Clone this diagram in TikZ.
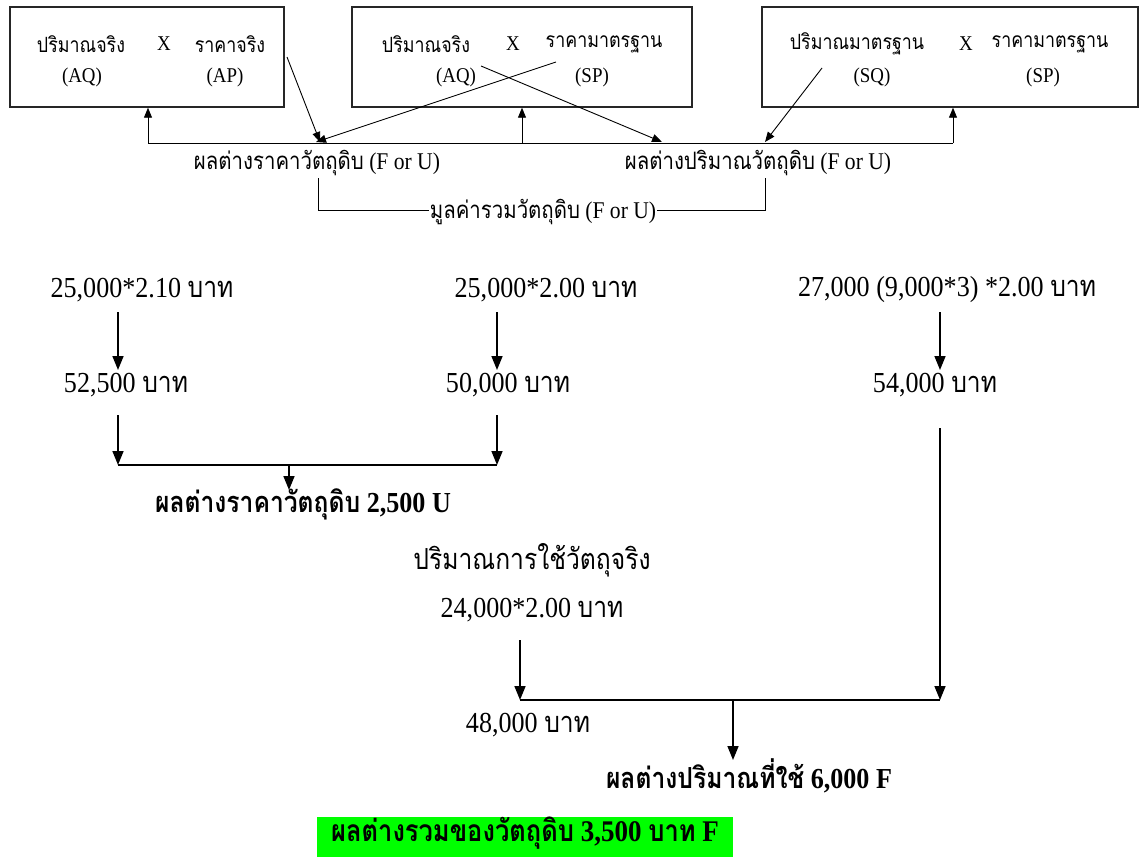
\documentclass[tikz,border=0pt]{standalone}
\usepackage{fontspec}
\setmainfont{Liberation Serif}[FakeStretch=0.9]
\newfontfamily\thai[Script=Thai,FakeStretch=0.85]{Loma}
\usetikzlibrary{arrows.meta}
\definecolor{hl}{RGB}{0,255,0}
\tikzset{
  box/.style={draw=black!85, line width=1.4pt, inner sep=0pt},
  small/.style={inner sep=0pt, font=\fontsize{21}{23}\selectfont},
  mid/.style={inner sep=0pt, font=\fontsize{24}{26}\selectfont},
  big/.style={inner sep=0pt, font=\fontsize{29}{31}\selectfont},
  bigb/.style={inner sep=0pt, font=\bfseries\fontsize{29}{31}\selectfont},
  thin/.style={line width=0.9pt, -{Triangle[length=10pt,width=8pt]}},
  thinline/.style={line width=0.9pt},
  thick/.style={line width=1.6pt, -{Triangle[length=14pt,width=11pt]}},
  thickline/.style={line width=1.6pt},
}
\begin{document}
\begin{tikzpicture}[x=1pt,y=-1pt]
\useasboundingbox (0,0) rectangle (1139,857);
% boxes
\node[box, minimum width=274pt, minimum height=100pt] (b1) at (147,57) {};
\node[box, minimum width=340pt, minimum height=100pt] (b2) at (522,57) {};
\node[box, minimum width=376pt, minimum height=100pt] (b3) at (950,57) {};
% box texts
\node[small] (b1a) at (81,44) {\thai ปริมาณจริง};
\node[small] (b1x) at (164,44) {X};
\node[small] (b1b) at (230,44) {\thai ราคาจริง};
\node[small] (b1c) at (82,77) {(AQ)};
\node[small] (b1d) at (225,77) {(AP)};
\node[small] (b2a) at (426,44) {\thai ปริมาณจริง};
\node[small] (b2x) at (513,44) {X};
\node[small] (b2b) at (604,44) {\thai ราคามาตรฐาน};
\node[small] (b2c) at (456,77) {(AQ)};
\node[small] (b2d) at (592,77) {(SP)};
\node[small] (b3a) at (857,44) {\thai ปริมาณมาตรฐาน};
\node[small] (b3x) at (966,44) {X};
\node[small] (b3b) at (1050,44) {\thai ราคามาตรฐาน};
\node[small] (b3c) at (872,77) {(SQ)};
\node[small] (b3d) at (1043,77) {(SP)};
% top connectors
\coordinate (h1) at (148,143);
\coordinate (h2) at (522,143);
\coordinate (h3) at (953,143);
\draw[thinline] (h1) -- (h3);
\draw[thin] (h1) -- (h1 |- b1.south);
\draw[thin] (h2) -- (h2 |- b2.south);
\draw[thin] (h3) -- (h3 |- b3.south);
\coordinate (s1) at (287,57);
\coordinate (e1) at (320,142);
\coordinate (s2) at (556,62);
\coordinate (e2) at (316,142);
\coordinate (s3) at (481,66);
\coordinate (e3) at (662,142);
\coordinate (s4) at (822,68);
\coordinate (e4) at (765,142);
\draw[thin] (s1) -- (e1);
\draw[thin] (s2) -- (e2);
\draw[thin] (s3) -- (e3);
\draw[thin] (s4) -- (e4);
\node[mid] (l1) at (317,163) {{\thai ผลต่างราคาวัตถุดิบ} (F or U)};
\node[mid] (l2) at (758,163) {{\thai ผลต่างปริมาณวัตถุดิบ} (F or U)};
\coordinate (k1) at (318,178);
\coordinate (k2) at (765,178);
\draw[thinline] (k1) -- (318,210) -- (765,210) -- (k2);
\node[mid, fill=white, inner xsep=1pt] (l3) at (543,212) {{\thai มูลค่ารวมวัตถุดิบ} (F or U)};
% bottom: price variance
\node[big] (n1) at (142,290) {25,000*2.10 {\thai บาท}};
\node[big] (n2) at (126,385) {52,500 {\thai บาท}};
\node[big] (n3) at (546,290) {25,000*2.00 {\thai บาท}};
\node[big] (n4) at (508,385) {50,000 {\thai บาท}};
\node[big] (n5) at (947,290) {27,000 (9,000*3) *2.00 {\thai บาท}};
\node[big] (n6) at (935,385) {54,000 {\thai บาท}};
\coordinate (a1s) at (118,312); \coordinate (a1e) at (118,370);
\coordinate (a2s) at (118,415); \coordinate (a2e) at (118,465);
\coordinate (a3s) at (497,312); \coordinate (a3e) at (497,370);
\coordinate (a4s) at (497,415); \coordinate (a4e) at (497,465);
\coordinate (a5s) at (940,312); \coordinate (a5e) at (940,370);
\coordinate (a6s) at (940,428); \coordinate (a6e) at (940,700);
\draw[thick] (a1s) -- (a1e);
\draw[thick] (a2s) -- (a2e);
\draw[thick] (a3s) -- (a3e);
\draw[thick] (a4s) -- (a4e);
\draw[thick] (a5s) -- (a5e);
\draw[thick] (a6s) -- (a6e);
\draw[thickline] (a2e) -- (a4e);
\coordinate (m1) at (289,465);
\node[bigb] (r1) at (303,504) {{\thai ผลต่างราคาวัตถุดิบ} 2,500 U};
\draw[thick] (m1) -- (289,490);
% quantity variance
\node[big] (n7) at (532,560) {\thai ปริมาณการใช้วัตถุจริง};
\node[big] (n8) at (532,610) {24,000*2.00 {\thai บาท}};
\node[big] (n9) at (528,725) {48,000 {\thai บาท}};
\coordinate (a7s) at (520,640); \coordinate (a7e) at (520,700);
\draw[thick] (a7s) -- (a7e);
\draw[thickline] (a7e) -- (a6e);
\coordinate (m2) at (733,700);
\draw[thick] (m2) -- (733,760);
\node[bigb] (r2) at (749,776) {{\thai ผลต่างปริมาณที่ใช้} 6,000 F};
% total
\fill[hl] (317,817) rectangle (733,857);
\node[bigb, font=\bfseries\fontsize{30}{32}\selectfont] (tot) at (525,833) {{\thai ผลต่างรวมของวัตถุดิบ} 3,500 {\thai บาท} F};
\end{tikzpicture}
\end{document}
